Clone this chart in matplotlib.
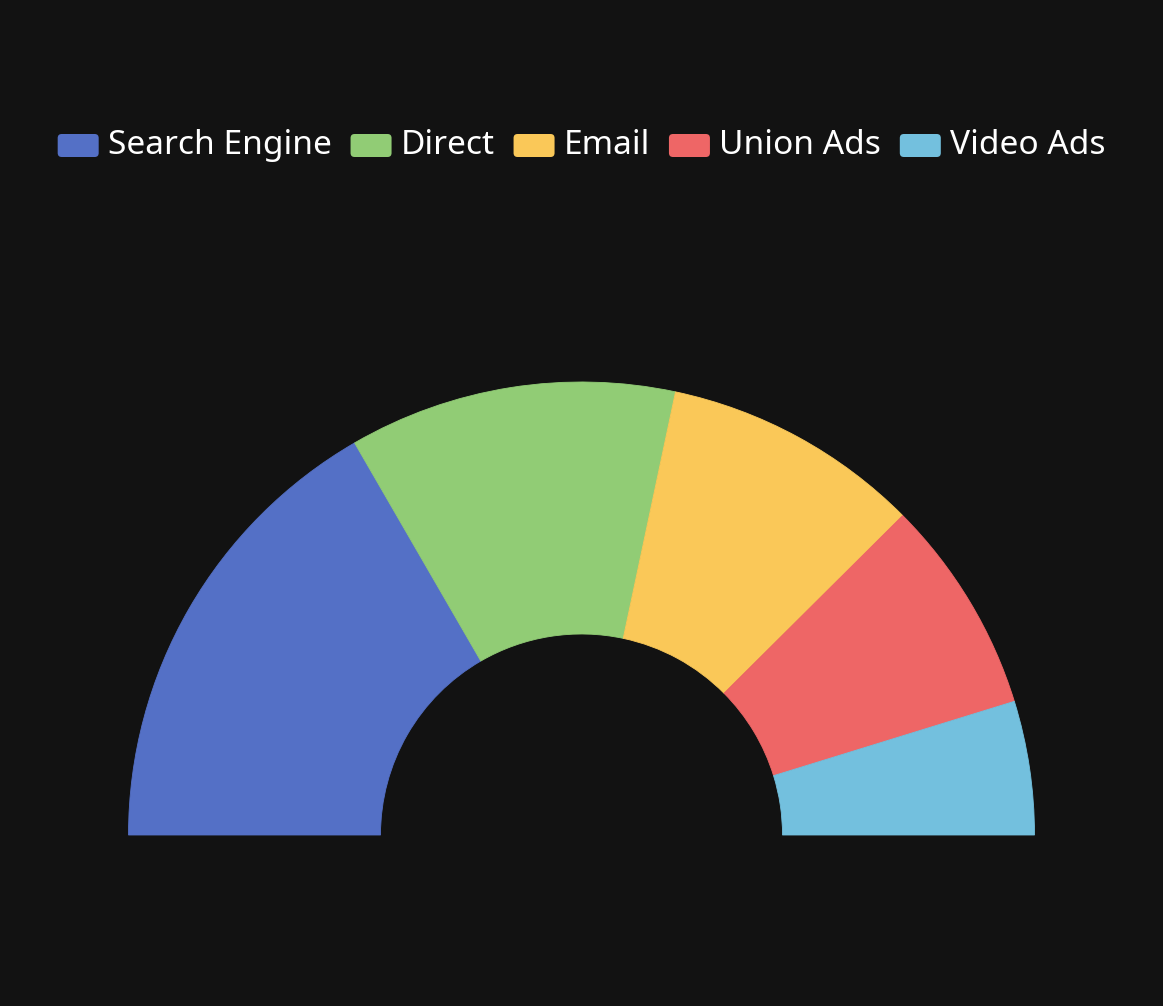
import matplotlib
matplotlib.use("Agg")
import matplotlib.pyplot as plt
from matplotlib.patches import FancyBboxPatch

# data
labels = ["Search Engine", "Direct", "Email", "Union Ads", "Video Ads"]
values = [1048, 735, 580, 484, 300]
colors = ["#5470c6", "#91cc75", "#fac858", "#ee6666", "#73c0de"]

bg = "#121212"
W, H = 1163, 1006

fig = plt.figure(figsize=(W / 100, H / 100), dpi=100, facecolor=bg)
ax = fig.add_axes([0, 0, 1, 1])
ax.set_facecolor(bg)

# half doughnut: add an invisible wedge for the bottom half
cx, cy = 581.5, H - 835
r_out, r_in = 453, 201
wedges, _ = ax.pie(values + [sum(values)], colors=colors + ["none"],
                   startangle=180, counterclock=False, radius=r_out,
                   center=(cx, cy), wedgeprops=dict(width=r_out - r_in, linewidth=0))
for w in wedges[:-1]:
    w.set_edgecolor(w.get_facecolor())
    w.set_linewidth(0.6)
wedges[-1].set_visible(False)

ax.set_xlim(0, W)
ax.set_ylim(0, H)
ax.set_aspect("equal")
ax.axis("off")

# legend, laid out like the echarts one: centered row of rounded icons
fs = 33.5 * 0.72
icon_w, icon_h, gap_icon, gap_item = 41, 23, 9, 19
icon_y = H - 145.5
base_y = H - 154
renderer = fig.canvas.get_renderer()
items = []
total = 0
for lab in labels:
    t = ax.text(0, base_y, lab, fontsize=fs, color="white", family="Noto Sans",
                va="baseline", ha="left")
    tw = t.get_window_extent(renderer).width
    items.append((t, tw))
    total += icon_w + gap_icon + tw
total += gap_item * (len(labels) - 1)

x = cx - total / 2
for (t, tw), c in zip(items, colors):
    ax.add_patch(FancyBboxPatch((x, icon_y - icon_h / 2), icon_w, icon_h,
                                boxstyle="round,pad=0,rounding_size=4",
                                facecolor=c, edgecolor="none"))
    t.set_x(x + icon_w + gap_icon)
    x += icon_w + gap_icon + tw + gap_item

fig.savefig("out.png", dpi=100, facecolor=bg)
